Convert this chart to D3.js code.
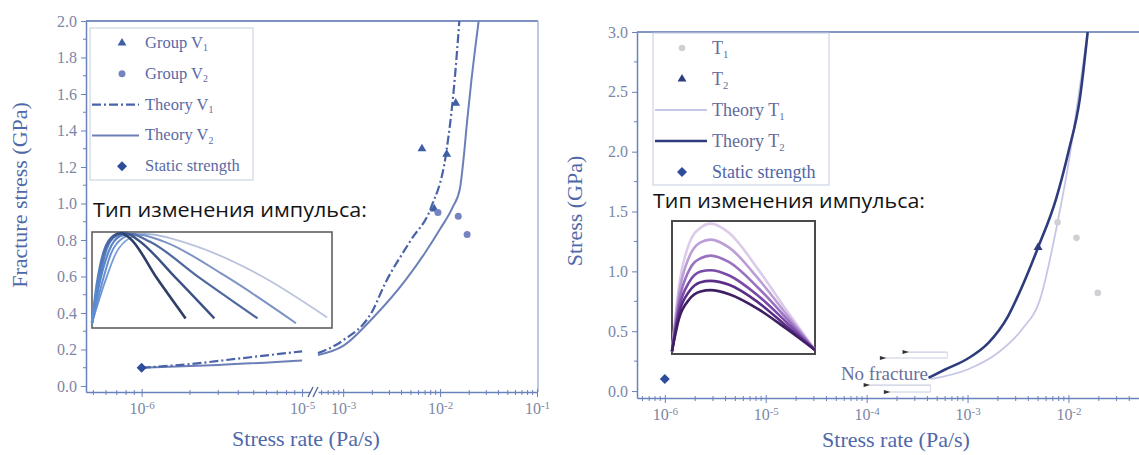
<!DOCTYPE html>
<html>
<head>
<meta charset="utf-8">
<script src="https://cdn.jsdelivr.net/npm/d3@7/dist/d3.min.js"></script>
<style>
  body { margin: 0; background: #fff; }
  svg text { font-family: "Liberation Serif", "Times New Roman", serif; }
  svg text.caption { font-family: "Open Sans", "Noto Sans", sans-serif; }
</style>
</head>
<body>
<svg id="chart" width="1139" height="455"></svg>
<script>
// ---- left panel (group V) ----
var groupV1 = [[6.5e-3, 1.30], [1.17e-2, 1.27], [1.45e-2, 1.55], [8.7e-3, 0.97]];
var groupV2 = [[9.5e-3, 0.95], [1.54e-2, 0.93], [1.9e-2, 0.83]];
var theoryV1Low = [[1e-6, 0.10], [2e-6, 0.12], [4e-6, 0.15], [1e-5, 0.19]];
var theoryV1High = [[5.5e-4, 0.18], [1e-3, 0.25], [2e-3, 0.41], [2.7e-3, 0.56], [5e-3, 0.8],
  [8.1e-3, 0.98], [1.15e-2, 1.27], [1.41e-2, 1.67], [1.58e-2, 2.0]];
var theoryV2Low = [[1e-6, 0.10], [3e-6, 0.115], [1e-5, 0.14]];
var theoryV2High = [[5.5e-4, 0.17], [1e-3, 0.22], [2e-3, 0.37], [4.4e-3, 0.58], [7e-3, 0.73],
  [1e-2, 0.86], [1.35e-2, 0.98], [1.6e-2, 1.08], [1.75e-2, 1.25], [1.9e-2, 1.45],
  [2.1e-2, 1.67], [2.5e-2, 2.0]];
var staticV = [[1e-6, 0.10]];
var leftYTicks = [0, 0.2, 0.4, 0.6, 0.8, 1.0, 1.2, 1.4, 1.6, 1.8, 2.0];
var leftXLowTicks = [1e-6, 1e-5];
var leftXHighTicks = [1e-3, 1e-2, 1e-1];
var leftLegend = ['Group V|1', 'Group V|2', 'Theory V|1', 'Theory V|2', 'Static strength'];

// pulse shapes of the left inset (inset units 0..1)
var pulsesV = [
  [[0, 0.05], [0.02, 0.45], [0.05, 0.8], [0.09, 0.96], [0.12, 0.99], [0.16, 0.93], [0.27, 0.52], [0.39, 0.10]],
  [[0, 0.05], [0.03, 0.5], [0.06, 0.82], [0.1, 0.96], [0.14, 0.99], [0.19, 0.92], [0.35, 0.52], [0.51, 0.10]],
  [[0, 0.05], [0.03, 0.45], [0.07, 0.8], [0.12, 0.96], [0.16, 0.98], [0.24, 0.9], [0.45, 0.52], [0.69, 0.10]],
  [[0, 0.05], [0.04, 0.45], [0.08, 0.78], [0.13, 0.94], [0.18, 0.98], [0.3, 0.9], [0.55, 0.55], [0.85, 0.05]],
  [[0, 0.05], [0.05, 0.45], [0.1, 0.78], [0.16, 0.94], [0.22, 0.98], [0.4, 0.88], [0.7, 0.55], [0.98, 0.11]]
];
var pulsesVColors = ['#2e3f66', '#3b5186', '#4f68a0', '#7d93c3', '#b9c3dc'];

// ---- right panel (group T) ----
var groupT1 = [[7.8e-3, 1.41], [1.2e-2, 1.28], [1.95e-2, 0.82]];
var groupT2 = [[5e-3, 1.2]];
var theoryT1 = [[4.3e-4, 0.10], [1e-3, 0.18], [2e-3, 0.32], [3.5e-3, 0.52], [5.2e-3, 0.76],
  [7.8e-3, 1.41], [1e-2, 1.9], [1.25e-2, 2.45], [1.55e-2, 3.0]];
var theoryT2 = [[4.1e-4, 0.11], [6e-4, 0.18], [1e-3, 0.27], [1.6e-3, 0.40], [2.5e-3, 0.62],
  [3.5e-3, 0.88], [5e-3, 1.2], [7.5e-3, 1.6], [1e-2, 2.0], [1.3e-2, 2.45], [1.55e-2, 3.0]];
var staticT = [[1e-6, 0.10]];
var rightYTicks = [0, 0.5, 1.0, 1.5, 2.0, 2.5, 3.0];
var rightXTicks = [1e-6, 1e-5, 1e-4, 1e-3, 1e-2];
var rightLegend = ['T|1', 'T|2', 'Theory T|1', 'Theory T|2', 'Static strength'];
// no-fracture arrows: [from x, to x, y]
var noFractureArrows = [[6.3e-4, 2.6e-4, 0.326], [6.3e-4, 1.55e-4, 0.276],
  [4.3e-4, 1.07e-4, 0.05], [4.3e-4, 1.7e-4, -0.008]];

// pulse shapes of the right inset
var pulseTX = [0, 0.05, 0.12, 0.2, 0.27, 0.4, 0.6, 0.8, 1];
var pulsesT = [
  [0.02, 0.52, 0.83, 0.95, 0.98, 0.91, 0.64, 0.33, 0.03],
  [0.02, 0.46, 0.73, 0.84, 0.86, 0.80, 0.57, 0.30, 0.03],
  [0.02, 0.40, 0.63, 0.72, 0.74, 0.69, 0.50, 0.27, 0.03],
  [0.02, 0.35, 0.54, 0.62, 0.63, 0.59, 0.44, 0.24, 0.03],
  [0.02, 0.31, 0.47, 0.54, 0.55, 0.52, 0.39, 0.21, 0.03],
  [0.02, 0.27, 0.41, 0.47, 0.48, 0.45, 0.34, 0.19, 0.03]
];
var pulsesTColors = ['#dccbea', '#bc9ed6', '#9a72c2', '#7a4aa8', '#5a2e88', '#3e1f62'];

var svg = d3.select('#chart');
var axisCol = '#6a82bb', tickCol = '#7c86a6', titleCol = '#4e68a8';

function minorTicks(lo, hi) {
  var out = [];
  for (var e = Math.floor(Math.log10(lo)); e <= Math.ceil(Math.log10(hi)); e++) {
    for (var k = 2; k <= 9; k++) {
      var v = k * Math.pow(10, e);
      if (v > lo && v < hi) out.push(v);
    }
  }
  return out;
}

function styleAxis(g) {
  g.selectAll('path.domain').attr('stroke', axisCol).attr('stroke-width', 1.5);
  g.selectAll('.tick line').attr('stroke', axisCol);
  g.selectAll('.tick text').attr('fill', tickCol).attr('font-size', 16);
}

function powLabels(g) {
  g.selectAll('.tick text').each(function(d) {
    var t = d3.select(this).text(null);
    t.append('tspan').text('10');
    t.append('tspan').attr('dy', '-0.5em').attr('font-size', 11)
      .text('-' + Math.round(-Math.log10(d)));
  });
}

function xAxis(scale, y, majors, lo, hi) {
  var g = svg.append('g').attr('transform', 'translate(0,' + y + ')')
    .call(d3.axisBottom(scale).tickValues(majors).tickSize(5).tickSizeOuter(0).tickPadding(6));
  g.selectAll('.tick line').attr('y1', -3);
  styleAxis(g);
  powLabels(g);
  g.selectAll('line.minor').data(minorTicks(lo, hi)).enter().append('line')
    .attr('x1', scale).attr('x2', scale).attr('y1', -2).attr('y2', 3)
    .attr('stroke', axisCol);
  return g;
}

function yAxis(scale, x, majors, minors, fmt) {
  var g = svg.append('g').attr('transform', 'translate(' + x + ',0)')
    .call(d3.axisLeft(scale).tickValues(majors).tickSize(5).tickSizeOuter(0)
      .tickFormat(d3.format(fmt)).tickPadding(4));
  styleAxis(g);
  g.selectAll('line.minor').data(minors).enter().append('line')
    .attr('y1', scale).attr('y2', scale).attr('x1', -3).attr('x2', 0)
    .attr('stroke', axisCol);
  return g;
}

function subText(sel, label) {
  var parts = label.split('|');
  sel.append('tspan').text(parts[0]);
  if (parts[1]) sel.append('tspan').attr('dy', '0.35em').attr('font-size', '0.6em').text(parts[1]);
}

var tri = d3.symbol().type(d3.symbolTriangle).size(34);
var square = d3.symbol().type(d3.symbolSquare).size(50);

// ================= LEFT PANEL =================
var xL1 = d3.scaleLog().domain([4.5e-7, 1.12e-5]).range([86, 310]);
var xL2 = d3.scaleLog().domain([5.5e-4, 0.1]).range([318, 537]);
var yL = d3.scaleLinear().domain([-0.033, 2.0]).range([392, 21]);

// frame
svg.append('line').attr('x1', 86).attr('x2', 538).attr('y1', yL(2)).attr('y2', yL(2))
  .attr('stroke', '#7d90c2').attr('stroke-width', 2);
svg.append('line').attr('x1', 538).attr('x2', 538).attr('y1', yL(2)).attr('y2', 392)
  .attr('stroke', '#a9b6d6').attr('stroke-width', 1.5);

xAxis(xL1, 392, leftXLowTicks, 4.5e-7, 1.12e-5);
xAxis(xL2, 392, leftXHighTicks, 5.5e-4, 0.1);
// axis break marks
[0, 5].forEach(function(dx) {
  svg.append('line').attr('x1', 308 + dx).attr('x2', 313 + dx).attr('y1', 397).attr('y2', 387)
    .attr('stroke', '#4a5f96').attr('stroke-width', 1.3);
});
yAxis(yL, 86, leftYTicks, d3.range(0.1, 2.0, 0.2), '.1f');

var lineL1 = d3.line().x(function(d) { return xL1(d[0]); }).y(function(d) { return yL(d[1]); })
  .curve(d3.curveMonotoneX);
var lineL2 = d3.line().x(function(d) { return xL2(d[0]); }).y(function(d) { return yL(d[1]); })
  .curve(d3.curveMonotoneX);

svg.append('path').attr('d', lineL1(theoryV2Low)).attr('fill', 'none').attr('stroke', '#6c7fb8').attr('stroke-width', 2);
svg.append('path').attr('d', lineL2(theoryV2High)).attr('fill', 'none').attr('stroke', '#6c7fb8').attr('stroke-width', 2);
svg.append('path').attr('d', lineL1(theoryV1Low)).attr('fill', 'none').attr('stroke', '#4a62a8')
  .attr('stroke-width', 2.2).attr('stroke-dasharray', '9,3,2,3');
svg.append('path').attr('d', lineL2(theoryV1High)).attr('fill', 'none').attr('stroke', '#4a62a8')
  .attr('stroke-width', 2.2).attr('stroke-dasharray', '9,3,2,3');

svg.selectAll('path.gv1').data(groupV1).enter().append('path')
  .attr('d', tri).attr('fill', '#3f5ea6')
  .attr('transform', function(d) { return 'translate(' + xL2(d[0]) + ',' + yL(d[1]) + ')'; });
svg.selectAll('circle.gv2').data(groupV2).enter().append('circle')
  .attr('r', 3.5).attr('fill', '#7583c0')
  .attr('cx', function(d) { return xL2(d[0]); }).attr('cy', function(d) { return yL(d[1]); });
svg.selectAll('path.sv').data(staticV).enter().append('path')
  .attr('d', square).attr('fill', '#2d4c9c')
  .attr('transform', function(d) { return 'translate(' + xL1(d[0]) + ',' + yL(d[1]) + ') rotate(45)'; });

// legend
var legL = svg.append('g');
legL.append('rect').attr('x', 90).attr('y', 28).attr('width', 163).attr('height', 152)
  .attr('fill', '#fff').attr('stroke', '#c3cce2');
leftLegend.forEach(function(lab, i) {
  var cy = 43 + i * 30.8;
  if (i === 0) legL.append('path').attr('d', tri).attr('fill', '#3f5ea6').attr('transform', 'translate(122,' + cy + ')');
  if (i === 1) legL.append('circle').attr('cx', 122).attr('cy', cy).attr('r', 3.5).attr('fill', '#7583c0');
  if (i === 2) legL.append('line').attr('x1', 92).attr('x2', 139).attr('y1', cy).attr('y2', cy)
    .attr('stroke', '#4a62a8').attr('stroke-width', 2.2).attr('stroke-dasharray', '9,3,2,3');
  if (i === 3) legL.append('line').attr('x1', 92).attr('x2', 139).attr('y1', cy).attr('y2', cy)
    .attr('stroke', '#6c7fb8').attr('stroke-width', 2);
  if (i === 4) legL.append('path').attr('d', square).attr('fill', '#2d4c9c').attr('transform', 'translate(122,' + cy + ') rotate(45)');
  var t = legL.append('text').attr('x', 145).attr('y', cy + 5).attr('font-size', 16.5).attr('fill', '#5a6aa5');
  subText(t, lab);
});

// inset
svg.append('text').attr('class', 'caption').attr('x', 93).attr('y', 217)
  .attr('font-size', 20).attr('textLength', 274).attr('lengthAdjust', 'spacingAndGlyphs')
  .attr('fill', '#141414').text('Тип изменения импульса:');
var ixL = d3.scaleLinear().domain([0, 1]).range([92, 332]);
var iyL = d3.scaleLinear().domain([0, 1]).range([328, 232]);
svg.append('rect').attr('x', ixL(0)).attr('y', iyL(1)).attr('width', ixL(1) - ixL(0)).attr('height', iyL(0) - iyL(1))
  .attr('fill', '#fff').attr('stroke', '#555').attr('stroke-width', 1.5);
var defs = svg.append('defs');
var insetLineL = d3.line().x(function(d) { return ixL(d[0]); }).y(function(d) { return iyL(d[1]); }).curve(d3.curveMonotoneX);
pulsesV.slice().reverse().forEach(function(p, j) {
  var i = pulsesV.length - 1 - j;
  var gid = 'gv' + i;
  var gr = defs.append('linearGradient').attr('id', gid).attr('gradientUnits', 'userSpaceOnUse')
    .attr('x1', ixL(0)).attr('x2', ixL(p[p.length - 1][0])).attr('y1', 0).attr('y2', 0);
  gr.append('stop').attr('offset', '0%').attr('stop-color', '#5f8fd8');
  gr.append('stop').attr('offset', '35%').attr('stop-color', pulsesVColors[i]);
  gr.append('stop').attr('offset', '100%').attr('stop-color', pulsesVColors[i]);
  svg.append('path').attr('d', insetLineL(p)).attr('fill', 'none')
    .attr('stroke', 'url(#' + gid + ')').attr('stroke-width', 2.6 - i * 0.2);
});

// axis titles
svg.append('text').attr('transform', 'translate(27,195) rotate(-90)').attr('text-anchor', 'middle')
  .attr('font-size', 22).attr('fill', titleCol).text('Fracture stress (GPa)');
svg.append('text').attr('x', 306).attr('y', 446).attr('text-anchor', 'middle')
  .attr('font-size', 22).attr('fill', titleCol).text('Stress rate (Pa/s)');

// ================= RIGHT PANEL =================
var xR = d3.scaleLog().domain([5.3e-7, 0.05]).range([637, 1139]);
var yR = d3.scaleLinear().domain([-0.058, 3.0]).range([398, 32]);

svg.append('line').attr('x1', 637).attr('x2', 1139).attr('y1', yR(3)).attr('y2', yR(3))
  .attr('stroke', '#8596c4').attr('stroke-width', 2.2);
xAxis(xR, 398, rightXTicks, 5.3e-7, 0.05);
yAxis(yR, 637, rightYTicks, d3.range(0.25, 3.0, 0.5), '.1f');

var lineR = d3.line().x(function(d) { return xR(d[0]); }).y(function(d) { return yR(d[1]); })
  .curve(d3.curveMonotoneX);
svg.append('path').attr('d', lineR(theoryT1)).attr('fill', 'none').attr('stroke', '#c6c6e6').attr('stroke-width', 1.8);
svg.append('path').attr('d', lineR(theoryT2)).attr('fill', 'none').attr('stroke', '#2e3c7e').attr('stroke-width', 2.6);

svg.selectAll('circle.gt1').data(groupT1).enter().append('circle')
  .attr('r', 3.3).attr('fill', '#cfcfd4')
  .attr('cx', function(d) { return xR(d[0]); }).attr('cy', function(d) { return yR(d[1]); });
svg.selectAll('path.gt2').data(groupT2).enter().append('path')
  .attr('d', tri).attr('fill', '#2e3c7e')
  .attr('transform', function(d) { return 'translate(' + xR(d[0]) + ',' + yR(d[1]) + ')'; });
svg.selectAll('path.st').data(staticT).enter().append('path')
  .attr('d', square).attr('fill', '#2d4c9c')
  .attr('transform', function(d) { return 'translate(' + xR(d[0]) + ',' + yR(d[1]) + ') rotate(45)'; });

// no fracture annotation
defs.append('marker').attr('id', 'arr').attr('viewBox', '0 0 10 6').attr('refX', 1).attr('refY', 3)
  .attr('markerWidth', 8).attr('markerHeight', 4).attr('markerUnits', 'userSpaceOnUse').attr('orient', 'auto')
  .append('path').attr('d', 'M10,0 L0,3 L10,6 Z').attr('fill', '#333');
noFractureArrows.forEach(function(a) {
  svg.append('line').attr('x1', xR(a[0])).attr('x2', xR(a[1])).attr('y1', yR(a[2])).attr('y2', yR(a[2]))
    .attr('stroke', '#c9cde0').attr('stroke-width', 1.2).attr('marker-end', 'url(#arr)');
});
svg.append('line').attr('x1', xR(6.3e-4)).attr('x2', xR(6.3e-4)).attr('y1', yR(0.326)).attr('y2', yR(0.276))
  .attr('stroke', '#d6d9e8');
svg.append('line').attr('x1', xR(4.3e-4)).attr('x2', xR(4.3e-4)).attr('y1', yR(0.05)).attr('y2', yR(-0.008))
  .attr('stroke', '#d6d9e8');
svg.append('text').attr('x', xR(1.5e-4)).attr('y', 380).attr('text-anchor', 'middle')
  .attr('font-size', 19).attr('fill', '#6b6f9c').text('No fracture');

// legend
var legR = svg.append('g');
legR.append('rect').attr('x', 653).attr('y', 33).attr('width', 176).attr('height', 152)
  .attr('fill', '#fff').attr('stroke', '#c3cce2');
rightLegend.forEach(function(lab, i) {
  var cy = 48 + i * 31;
  if (i === 0) legR.append('circle').attr('cx', 682).attr('cy', cy).attr('r', 3.3).attr('fill', '#cfcfd4');
  if (i === 1) legR.append('path').attr('d', tri).attr('fill', '#2e3c7e').attr('transform', 'translate(682,' + cy + ')');
  if (i === 2) legR.append('line').attr('x1', 655).attr('x2', 707).attr('y1', cy).attr('y2', cy)
    .attr('stroke', '#c6c6e6').attr('stroke-width', 1.8);
  if (i === 3) legR.append('line').attr('x1', 655).attr('x2', 707).attr('y1', cy).attr('y2', cy)
    .attr('stroke', '#2e3c7e').attr('stroke-width', 2.6);
  if (i === 4) legR.append('path').attr('d', square).attr('fill', '#2d4c9c').attr('transform', 'translate(682,' + cy + ') rotate(45)');
  var t = legR.append('text').attr('x', 712).attr('y', cy + 6).attr('font-size', 18)
    .attr('fill', i < 4 ? '#646b9a' : '#4f66a8');
  subText(t, lab);
});

// inset
svg.append('text').attr('class', 'caption').attr('x', 653).attr('y', 208)
  .attr('font-size', 20).attr('textLength', 272).attr('lengthAdjust', 'spacingAndGlyphs')
  .attr('fill', '#141414').text('Тип изменения импульса:');
var ixR = d3.scaleLinear().domain([0, 1]).range([672, 815]);
var iyR = d3.scaleLinear().domain([0, 1]).range([354, 221]);
svg.append('rect').attr('x', ixR(0)).attr('y', iyR(1)).attr('width', ixR(1) - ixR(0)).attr('height', iyR(0) - iyR(1))
  .attr('fill', '#fff').attr('stroke', '#4a4a4a').attr('stroke-width', 2);
var insetLineR = d3.line().x(function(d, i) { return ixR(pulseTX[i]); }).y(function(d) { return iyR(d); })
  .curve(d3.curveMonotoneX);
pulsesT.forEach(function(p, i) {
  svg.append('path').attr('d', insetLineR(p)).attr('fill', 'none')
    .attr('stroke', pulsesTColors[i]).attr('stroke-width', 2.6);
});

// axis titles
svg.append('text').attr('transform', 'translate(582,211) rotate(-90)').attr('text-anchor', 'middle')
  .attr('font-size', 22).attr('fill', titleCol).text('Stress (GPa)');
svg.append('text').attr('x', 896).attr('y', 447).attr('text-anchor', 'middle')
  .attr('font-size', 22).attr('fill', titleCol).text('Stress rate (Pa/s)');
</script>
</body>
</html>
